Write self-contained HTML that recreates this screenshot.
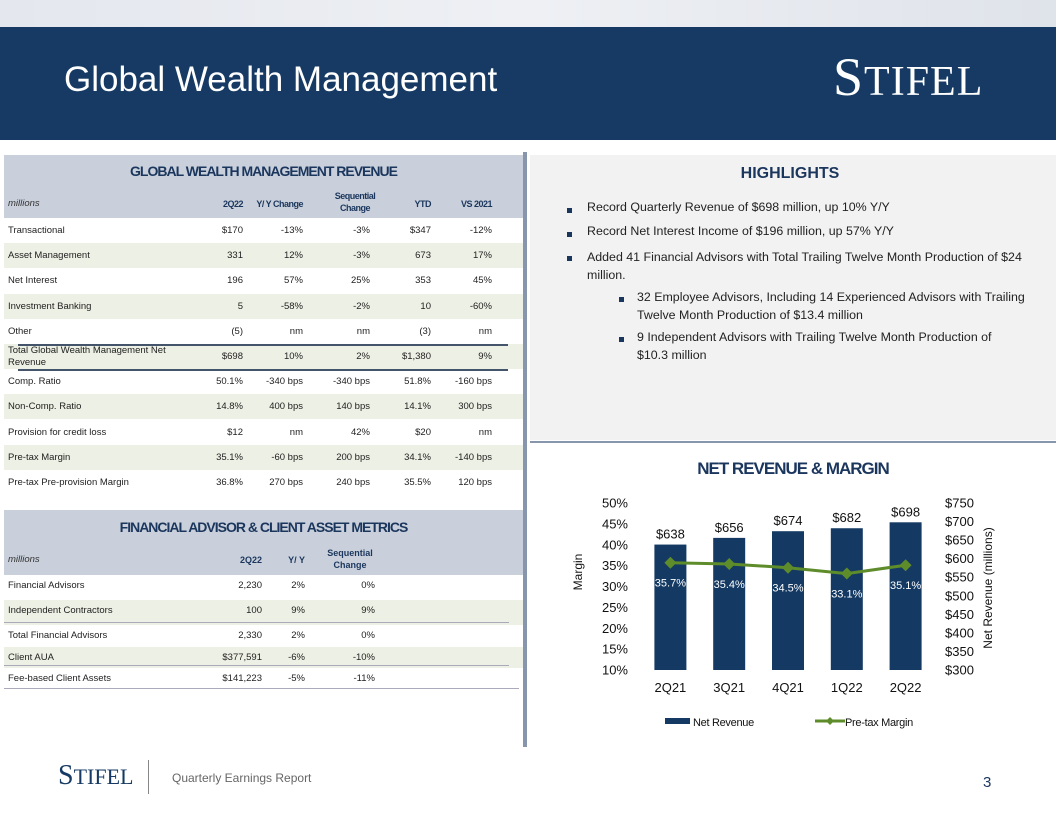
<!DOCTYPE html>
<html><head><meta charset="utf-8"><style>
body{margin:0;width:1056px;height:816px;position:relative;overflow:hidden;background:#fff;font-family:"Liberation Sans",sans-serif;}
.a{position:absolute;white-space:nowrap;}
.t{font-size:9.5px;color:#222;}
.r{text-align:right;}
.hl{font-size:12.4px;color:#222;}
.sq{position:absolute;width:5px;height:5px;background:#1b365d;}
</style></head><body>
<div class="a" style="left:0;top:0;width:1056px;height:27px;background:linear-gradient(90deg,#e4e7ee,#eef0f4,#dfe3ea);"></div>
<div class="a" style="left:0;top:27px;width:1056px;height:113px;background:#163a63;"></div>
<div class="a" style="left:64px;top:60px;font-size:35px;color:#fff;">Global Wealth Management</div>
<div class="a" style="left:833px;top:46px;font-family:'Liberation Serif',serif;font-size:54px;color:#fff;letter-spacing:1px;">S<span style="font-size:42px">TIFEL</span></div>

<div class="a" style="left:4px;top:155px;width:519px;height:63px;background:#c9d0db;"></div>
<div class="a" style="left:4px;top:163px;width:519px;text-align:center;font-size:14px;font-weight:bold;color:#1b365d;letter-spacing:-1px;">GLOBAL WEALTH MANAGEMENT REVENUE</div>
<div id="t1"></div>
<div class="a" style="left:4px;top:510px;width:519px;height:65px;background:#c9d0db;"></div>
<div class="a" style="left:4px;top:519px;width:519px;text-align:center;font-size:14px;font-weight:bold;color:#1b365d;letter-spacing:-1px;">FINANCIAL ADVISOR &amp; CLIENT ASSET METRICS</div>
<div id="t2"></div>
<div class="a" style="left:523px;top:152px;width:4px;height:595px;background:#8796ad;"></div>

<div class="a" style="left:530px;top:155px;width:526px;height:285px;background:#f2f2f2;"></div>
<div class="a" style="left:530px;top:441px;width:526px;height:2px;background:#8796ad;"></div>
<div class="a" style="left:530px;top:165px;width:520px;text-align:center;font-size:16px;font-weight:bold;color:#1b365d;">HIGHLIGHTS</div>
<div class="sq" style="left:567px;top:208px"></div><div class="a hl" style="left:587px;top:200px">Record Quarterly Revenue of $698 million, up 10% Y/Y</div>
<div class="sq" style="left:567px;top:232px"></div><div class="a hl" style="left:587px;top:224px">Record Net Interest Income of $196 million, up 57% Y/Y</div>
<div class="sq" style="left:567px;top:256px"></div><div class="a hl" style="left:587px;top:248px;line-height:18px">Added 41 Financial Advisors with Total Trailing Twelve Month Production of $24<br>million.</div>
<div class="sq" style="left:619px;top:297px"></div><div class="a hl" style="left:637px;top:288px;line-height:18px">32 Employee Advisors, Including 14 Experienced Advisors with Trailing<br>Twelve Month Production of $13.4 million</div>
<div class="sq" style="left:619px;top:337px"></div><div class="a hl" style="left:637px;top:328px;line-height:18px">9 Independent Advisors with Trailing Twelve Month Production of<br>$10.3 million</div>

<div class="a" style="left:530px;top:459px;width:526px;text-align:center;font-size:17px;font-weight:bold;color:#1b365d;letter-spacing:-1px;">NET REVENUE &amp; MARGIN</div>
<svg id="chart" class="a" style="left:0;top:0" width="1056" height="816"></svg>

<div class="a" style="left:58px;top:760px;font-family:'Liberation Serif',serif;font-size:28px;color:#163a63;">S<span style="font-size:22px">TIFEL</span></div>
<div class="a" style="left:148px;top:760px;width:1px;height:34px;background:#888;"></div>
<div class="a" style="left:172px;top:771px;font-size:12px;color:#666;">Quarterly Earnings Report</div>
<div class="a" style="left:983px;top:774px;font-size:15px;color:#1b365d;">3</div>

<script>
const NS='http://www.w3.org/2000/svg';
function div(parent,txt,st,cls){const d=document.createElement('div');d.className='a t '+(cls||'');d.innerHTML=txt;d.style.cssText=st;document.body.appendChild(d);return d;}
const t1Cols=[243,303,370,431,492];
const t1Head=['2Q22','Y/ Y Change','Sequential<br>Change','YTD','VS 2021'];
const t1Rows=[['Transactional','$170','-13%','-3%','$347','-12%'],['Asset Management','331','12%','-3%','673','17%'],['Net Interest','196','57%','25%','353','45%'],['Investment Banking','5','-58%','-2%','10','-60%'],['Other','(5)','nm','nm','(3)','nm'],['Total Global Wealth Management Net<br>Revenue','$698','10%','2%','$1,380','9%'],['Comp. Ratio','50.1%','-340 bps','-340 bps','51.8%','-160 bps'],['Non-Comp. Ratio','14.8%','400 bps','140 bps','14.1%','300 bps'],['Provision for credit loss','$12','nm','42%','$20','nm'],['Pre-tax Margin','35.1%','-60 bps','200 bps','34.1%','-140 bps'],['Pre-tax Pre-provision Margin','36.8%','270 bps','240 bps','35.5%','120 bps']];
let e=div(0,'millions','left:8px;top:198px;font-style:italic;color:#333');

t1Head.forEach((h,i)=>{const w=i==2?80:60;const x=i==2?t1Cols[i]-55:t1Cols[i]-w;const d=div(0,h,`left:${x}px;top:${i==2?190:198}px;width:${w}px;text-align:${i==2?'center':'right'};font-weight:bold;font-size:9px;line-height:12px;color:#1b365d;letter-spacing:-0.5px`);
});
t1Rows.forEach((r,k)=>{const y=218+k*25.2;
 if(k%2==1){const b=div(0,'',`left:4px;top:${y}px;width:519px;height:25px;background:#edf0e4`);}
 if(k==5){const l1=div(0,'',`left:18px;top:${y}px;width:490px;height:1.5px;background:#44546a`);const l2=div(0,'',`left:18px;top:${y+25}px;width:490px;height:1.5px;background:#44546a`);}
 const lab=div(0,r[0],`left:8px;top:${k==5?y+1:y+7}px;line-height:12px`);
 for(let i=1;i<6;i++){const c=div(0,r[i],`left:${t1Cols[i-1]-70}px;top:${y+7}px;width:70px`,'r');}
});
const t2Cols=[262,305,375];
const t2Rows=[['Financial Advisors','2,230','2%','0%'],['Independent Contractors','100','9%','9%'],['Total Financial Advisors','2,330','2%','0%'],['Client AUA','$377,591','-6%','-10%'],['Fee-based Client Assets','$141,223','-5%','-11%']];
e=div(0,'millions','left:8px;top:554px;font-style:italic;color:#333');
['2Q22','Y/ Y','Sequential<br>Change'].forEach((h,i)=>{const d=div(0,h,`left:${t2Cols[i]-60}px;top:${i==2?547:554}px;width:${i==2?70:60}px;text-align:${i==2?'center':'right'};font-weight:bold;font-size:9px;line-height:12px;color:#1b365d`);});
const t2Y=[575,600,625,647,668];
t2Rows.forEach((r,k)=>{const y=t2Y[k];const h=k==2?22:(k==3?21:25);
 if(k%2==1){const b=div(0,'',`left:4px;top:${y}px;width:519px;height:${h}px;background:#edf0e4`);}
 const lab=div(0,r[0],`left:8px;top:${y+5}px`);
 for(let i=1;i<4;i++){const c=div(0,r[i],`left:${t2Cols[i-1]-70}px;top:${y+5}px;width:70px`,'r');}
});
['left:4px;top:622px;width:505px','left:4px;top:665px;width:505px','left:4px;top:688px;width:515px'].forEach(s=>{const l=div(0,'',s+';height:1px;background:#aab');});

const categories=['2Q21','3Q21','4Q21','1Q22','2Q22'];
const revenue=[638,656,674,682,698];
const margin=[35.7,35.4,34.5,33.1,35.1];
const leftTicks=[10,15,20,25,30,35,40,45,50];
const rightTicks=[300,350,400,450,500,550,600,650,700,750];
const svg=document.getElementById('chart');
const x0=641,step=58.8,bw=32,yTop=503,yBot=670;
const xc=i=>x0+step*(i+0.5);
const yL=v=>yBot-(v-10)/40*(yBot-yTop);
const yR=v=>yBot-(v-300)/450*(yBot-yTop);
function mk(tag,attrs,txt){const el=document.createElementNS(NS,tag);for(const k in attrs)el.setAttribute(k,attrs[k]);if(txt!=null)el.textContent=txt;svg.appendChild(el);return el;}
const F='Liberation Sans, sans-serif';
leftTicks.forEach(v=>{const t=mk('text',{x:628,y:yL(v)+4.5,'text-anchor':'end','font-size':13,'font-family':F,fill:'#111'},v+'%');
});
rightTicks.forEach(v=>{const t=mk('text',{x:945,y:yR(v)+4.5,'font-size':13,'font-family':F,fill:'#111'},'$'+v);
});
categories.forEach((c,i)=>{
 const b=mk('rect',{x:xc(i)-bw/2,y:yR(revenue[i]),width:bw,height:yBot-yR(revenue[i]),fill:'#143a64'});
 
 const vl=mk('text',{x:xc(i),y:yR(revenue[i])-6,'text-anchor':'middle','font-size':13,'font-family':F,fill:'#111'},'$'+revenue[i]);
 
 const xl=mk('text',{x:xc(i),y:692,'text-anchor':'middle','font-size':13,'font-family':F,fill:'#111'},c);
 
});
const pts=margin.map((m,i)=>xc(i)+','+yL(m)).join(' ');
const ln=mk('polyline',{points:pts,fill:'none',stroke:'#5e8c2a','stroke-width':3});

margin.forEach((m,i)=>{const x=xc(i),y=yL(m);
 const d=mk('polygon',{points:`${x},${y-6} ${x+6},${y} ${x},${y+6} ${x-6},${y}`,fill:'#5e8c2a'});
 
 const t=mk('text',{x:x,y:y+24,'text-anchor':'middle','font-size':11,'font-family':F,fill:'#fff'},m.toFixed(1)+'%');
 
});
let at=mk('text',{transform:'translate(582,572) rotate(-90)','text-anchor':'middle','font-size':12,'font-family':F,fill:'#111'},'Margin');

at=mk('text',{transform:'translate(992,588) rotate(-90)','text-anchor':'middle','font-size':12,'font-family':F,fill:'#111'},'Net Revenue (millions)');

let lg=mk('rect',{x:665,y:718,width:25,height:6,fill:'#143a64'});
lg=mk('text',{x:693,y:726,'font-size':11,'font-family':F,fill:'#111','letter-spacing':'-0.3'},'Net Revenue');
lg=mk('line',{x1:815,y1:721,x2:845,y2:721,stroke:'#5e8c2a','stroke-width':3});
lg=mk('polygon',{points:'830,717 834,721 830,725 826,721',fill:'#5e8c2a'});
lg=mk('text',{x:845,y:726,'font-size':11,'font-family':F,fill:'#111','letter-spacing':'-0.3'},'Pre-tax Margin');
</script>
</body></html>
